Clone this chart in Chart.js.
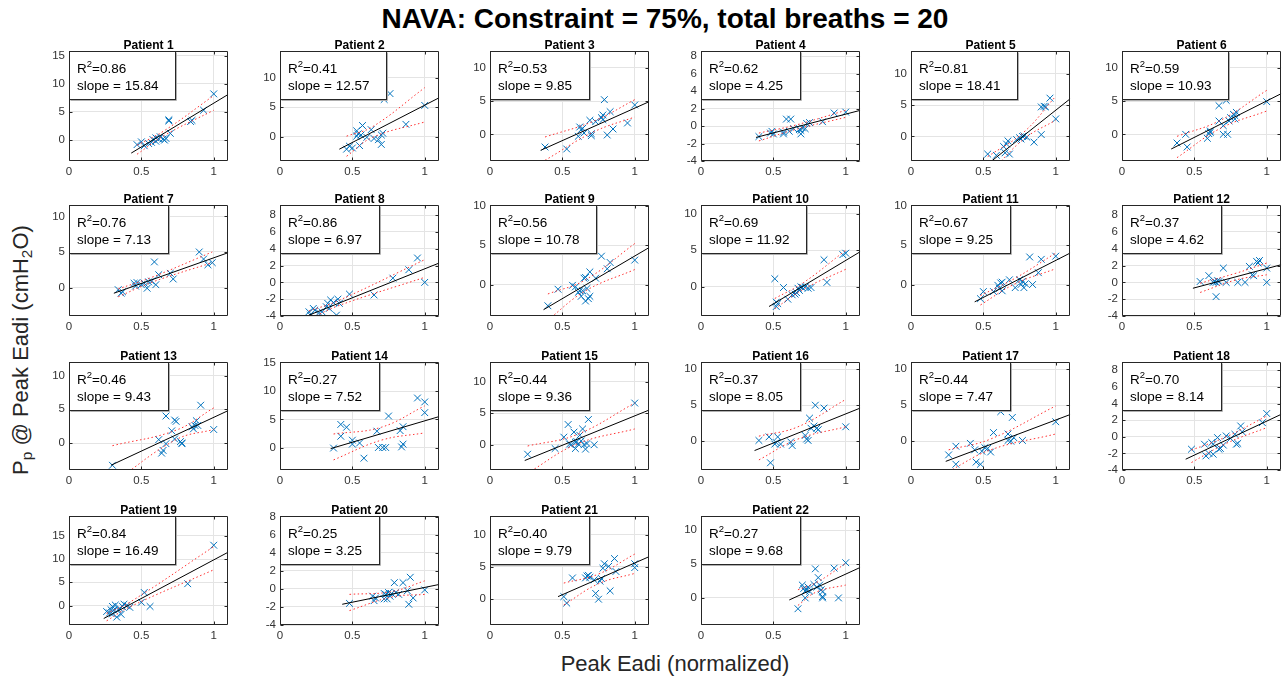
<!DOCTYPE html>
<html>
<head>
<meta charset="utf-8">
<script src="https://cdn.jsdelivr.net/npm/chart.js@4.4.1/dist/chart.umd.min.js"></script>
<style>
  body { margin: 0; background: #fff; width: 1286px; height: 679px; position: relative; overflow: hidden;
         font-family: "Liberation Sans", Arial, sans-serif; color: #262626; }
  canvas.sub { position: absolute; }
  #title { position: absolute; left: 465px; width: 400px; top: 5px; text-align: center; white-space: nowrap;
           font-weight: bold; font-size: 28px; line-height: 28px; color: #000; display: flex; justify-content: center; }
  #xlab { position: absolute; left: 675px; top: 664px; transform: translate(-50%, -50%); white-space: nowrap;
          font-size: 22px; line-height: 22px; }
  #ylab { position: absolute; left: 21px; top: 350px; transform: translate(-50%, -50%) rotate(-90deg);
          white-space: nowrap; font-size: 22px; line-height: 22px; }
  #ylab sub { font-size: 70%; vertical-align: -0.25em; line-height: 0; }
</style>
</head>
<body>
<div id="title">NAVA: Constraint = 75%, total breaths = 20</div>
<div id="ylab">P<sub>p</sub> @ Peak Eadi (cmH<sub>2</sub>O)</div>
<div id="xlab">Peak Eadi (normalized)</div>
<script>
const patients = ["Patient 1","Patient 2","Patient 3","Patient 4","Patient 5","Patient 6",
  "Patient 7","Patient 8","Patient 9","Patient 10","Patient 11","Patient 12",
  "Patient 13","Patient 14","Patient 15","Patient 16","Patient 17","Patient 18",
  "Patient 19","Patient 20","Patient 21","Patient 22"];
const r2Values = [0.86,0.41,0.53,0.62,0.81,0.59, 0.76,0.86,0.56,0.69,0.67,0.37,
  0.46,0.27,0.44,0.37,0.44,0.70, 0.84,0.25,0.40,0.27];
const slopeValues = [15.84,12.57,9.85,4.25,18.41,10.93, 7.13,6.97,10.78,11.92,9.25,4.62,
  9.43,7.52,9.36,8.05,7.47,8.14, 16.49,3.25,9.79,9.68];

// normalized peak Eadi (x) per patient
const eadiX = [
  [0.47,0.50,0.52,0.55,0.57,0.58,0.60,0.60,0.62,0.63,0.65,0.66,0.67,0.69,0.69,0.70,0.84,0.85,0.93,1.00],
  [0.46,0.48,0.50,0.53,0.53,0.54,0.55,0.56,0.57,0.60,0.63,0.65,0.68,0.70,0.70,0.71,0.72,0.76,0.87,1.00],
  [0.38,0.53,0.61,0.62,0.63,0.64,0.65,0.69,0.70,0.70,0.73,0.77,0.78,0.78,0.79,0.81,0.83,0.85,0.95,1.00],
  [0.40,0.48,0.49,0.50,0.57,0.57,0.59,0.62,0.61,0.64,0.68,0.69,0.69,0.70,0.72,0.73,0.75,0.84,0.92,1.00],
  [0.53,0.59,0.64,0.65,0.66,0.67,0.68,0.73,0.75,0.76,0.77,0.78,0.80,0.85,0.90,0.90,0.92,0.93,0.96,1.00],
  [0.38,0.44,0.45,0.59,0.60,0.61,0.61,0.67,0.67,0.70,0.70,0.72,0.73,0.74,0.75,0.77,0.78,0.78,0.79,1.00],
  [0.34,0.36,0.37,0.45,0.46,0.47,0.50,0.52,0.54,0.55,0.57,0.59,0.60,0.62,0.70,0.72,0.90,0.93,0.96,0.99],
  [0.20,0.21,0.23,0.24,0.27,0.29,0.32,0.33,0.34,0.35,0.37,0.39,0.40,0.41,0.48,0.65,0.78,0.89,0.95,1.00],
  [0.40,0.47,0.57,0.59,0.61,0.62,0.63,0.64,0.65,0.66,0.66,0.67,0.68,0.69,0.69,0.73,0.77,0.81,0.83,1.00],
  [0.51,0.52,0.52,0.53,0.57,0.60,0.63,0.65,0.66,0.67,0.68,0.69,0.70,0.72,0.74,0.76,0.85,0.87,0.98,1.00],
  [0.48,0.50,0.57,0.60,0.61,0.62,0.63,0.63,0.68,0.72,0.75,0.76,0.77,0.78,0.79,0.82,0.84,0.88,0.90,1.00],
  [0.54,0.60,0.63,0.64,0.65,0.65,0.66,0.67,0.70,0.72,0.80,0.85,0.88,0.90,0.91,0.93,0.94,0.95,1.00,1.00],
  [0.30,0.62,0.64,0.65,0.67,0.67,0.71,0.73,0.73,0.74,0.77,0.78,0.78,0.85,0.86,0.87,0.88,0.89,0.91,1.00],
  [0.37,0.42,0.42,0.46,0.50,0.50,0.55,0.58,0.67,0.68,0.71,0.73,0.75,0.83,0.84,0.85,0.85,0.95,1.00,1.00],
  [0.26,0.45,0.51,0.54,0.55,0.56,0.58,0.59,0.59,0.60,0.61,0.62,0.63,0.64,0.65,0.66,0.67,0.68,0.72,1.00],
  [0.40,0.47,0.48,0.51,0.52,0.53,0.55,0.62,0.63,0.72,0.73,0.74,0.75,0.76,0.78,0.79,0.80,0.81,0.85,1.00],
  [0.26,0.31,0.31,0.41,0.44,0.45,0.48,0.49,0.51,0.53,0.55,0.57,0.62,0.67,0.67,0.69,0.70,0.71,0.77,1.00],
  [0.48,0.57,0.58,0.60,0.62,0.63,0.63,0.66,0.67,0.68,0.70,0.72,0.75,0.78,0.79,0.80,0.82,0.83,0.97,1.00],
  [0.26,0.28,0.29,0.30,0.30,0.31,0.32,0.33,0.34,0.35,0.36,0.37,0.38,0.40,0.42,0.50,0.52,0.56,0.82,1.00],
  [0.48,0.64,0.65,0.66,0.72,0.72,0.73,0.74,0.75,0.76,0.77,0.79,0.80,0.82,0.85,0.88,0.89,0.90,0.92,1.00],
  [0.51,0.53,0.57,0.66,0.67,0.68,0.69,0.72,0.73,0.75,0.76,0.77,0.78,0.79,0.82,0.83,0.86,0.87,1.00,1.00],
  [0.67,0.70,0.71,0.72,0.72,0.73,0.74,0.75,0.78,0.79,0.80,0.81,0.82,0.83,0.84,0.84,0.84,0.92,0.95,1.00]
];
// Pp at peak Eadi (y, cmH2O) per patient
const ppY = [
  [-0.8,-0.3,-1.0,-0.6,-0.4,0.1,0.4,-0.2,0.2,0.6,0.2,0.0,0.3,3.6,3.4,1.2,3.3,3.5,5.3,8.2],
  [-2.1,-1.6,-1.9,0.1,1.0,0.5,-1.5,0.3,1.9,-0.1,1.2,-0.3,-0.5,0.3,-1.3,0.6,6.3,7.3,2.1,5.3],
  [-1.9,-2.2,-0.3,1.1,0.7,0.9,0.2,2.1,0.1,-0.2,1.9,2.5,2.9,2.2,5.2,-0.1,3.4,0.8,1.7,4.4],
  [-1.2,-0.8,-0.6,-0.9,-0.7,-0.9,0.8,0.8,-0.6,-0.3,-0.4,-0.5,-0.9,-0.2,-0.3,0.3,0.4,0.5,1.5,1.6],
  [-2.8,-3.0,-1.6,-2.6,-1.2,-0.7,-2.8,-0.5,-0.2,-0.4,0.0,0.1,-0.1,-0.9,0.3,4.7,4.8,4.7,6.1,2.8],
  [-1.3,0.0,-1.9,-0.6,0.1,0.3,0.5,2.0,4.3,0.0,1.3,5.1,0.0,2.0,2.5,3.0,2.3,2.8,3.3,4.9],
  [-0.3,-0.8,-0.6,0.6,0.2,0.7,0.4,0.6,-0.1,0.8,0.9,3.6,0.4,1.8,2.0,1.2,5.0,4.0,3.2,3.5],
  [-3.5,-3.9,-3.1,-3.3,-3.6,-3.5,-2.9,-2.5,-3.1,-2.1,-2.4,-3.9,-2.0,-2.5,-1.4,-1.5,0.5,1.5,2.9,0.0],
  [-2.7,-0.6,-0.1,-0.3,-1.0,-0.8,-1.5,-0.8,0.8,0.9,-2.1,-0.5,-1.8,1.6,-1.5,0.8,3.6,2.0,2.8,3.1],
  [1.1,-2.1,-2.7,-2.3,-0.1,-1.7,-1.1,-1.0,-0.8,-0.2,-0.5,0.0,-0.1,0.0,-0.2,-0.1,3.7,0.6,4.4,4.6],
  [-1.8,-0.9,-0.9,-0.1,-0.5,0.2,0.3,-0.8,0.6,-0.4,0.6,0.0,0.4,-0.4,0.1,3.5,0.0,1.5,3.2,3.6],
  [0.1,0.8,0.0,0.1,-1.7,0.0,0.2,0.1,1.7,0.0,0.0,0.0,1.9,0.9,0.8,2.5,2.3,2.6,1.7,0.0],
  [-3.3,0.5,-1.5,-1.1,-0.1,4.0,1.8,0.6,3.4,3.2,0.2,-0.1,0.0,2.4,2.1,2.6,3.3,2.6,5.6,2.0],
  [-0.1,2.0,4.1,3.6,1.3,0.6,0.8,-1.9,2.9,0.0,0.0,0.0,5.6,3.0,0.1,3.7,0.6,8.8,8.1,6.2],
  [-1.5,-0.6,1.2,3.2,0.1,0.0,2.0,0.4,-0.6,0.5,0.1,1.5,0.6,2.5,0.0,-0.7,0.2,4.0,0.0,6.6],
  [0.1,0.6,-3.0,-0.4,-0.2,0.6,-0.4,-0.1,-0.6,0.8,0.3,0.1,3.2,1.8,2.1,5.0,1.8,1.6,4.6,2.0],
  [-1.9,-0.7,-3.2,-0.3,-1.2,-2.9,-3.2,-1.4,-0.9,-1.0,-1.5,1.2,4.1,1.0,0.1,0.0,3.3,0.5,0.1,2.7],
  [-1.5,-0.9,-2.3,-2.0,-0.7,-0.9,-2.1,-0.1,-1.5,-1.4,-1.0,0.1,-0.2,0.3,-0.9,-0.8,1.3,0.6,1.7,2.8],
  [-1.3,-1.6,-0.9,-0.2,-1.8,-1.0,0.1,-2.5,-0.9,-0.6,-1.9,-0.2,0.3,0.0,-0.4,0.7,2.8,-0.2,4.7,13.0],
  [-1.6,-0.8,-1.3,-1.0,-1.1,-0.5,-0.6,-1.1,-0.4,-0.8,-0.5,0.7,-0.4,-0.6,0.7,-0.2,-1.7,1.3,-1.0,-0.1],
  [0.4,-0.6,3.3,3.3,3.6,3.7,3.4,3.0,0.9,0.0,2.8,3.2,4.8,5.5,5.1,1.3,6.3,4.3,5.5,4.9],
  [-1.6,1.9,1.4,0.0,1.0,1.2,1.6,1.0,2.0,4.3,1.6,3.0,1.9,1.2,0.9,0.2,0.0,4.4,0.0,5.2]
];
// fitted line ends [[x0,y0],[x1,y1]]
const fitLines = [
  [[0.43,-2.3],[1.1,8.1]], [[0.41,-2.1],[1.1,6.6]], [[0.35,-2.4],[1.1,4.9]], [[0.38,-1.3],[1.1,1.8]],
  [[0.557,-3.9],[1.1,6.0]], [[0.34,-2.2],[1.1,6.1]], [[0.31,-0.8],[1.1,4.9]], [[0.2,-3.9],[1.1,2.3]],
  [[0.37,-3.2],[1.1,4.7]], [[0.47,-2.7],[1.1,4.8]], [[0.44,-2.2],[1.1,4.0]], [[0.49,-0.7],[1.1,2.1]],
  [[0.29,-3.3],[1.1,4.8]], [[0.35,-0.2],[1.1,5.5]], [[0.24,-2.5],[1.1,5.5]], [[0.37,-1.3],[1.1,4.6]],
  [[0.24,-2.8],[1.1,3.7]], [[0.44,-2.7],[1.1,2.7]], [[0.24,-2.8],[1.1,11.5]], [[0.43,-1.7],[1.1,0.5]],
  [[0.47,0.4],[1.1,6.6]], [[0.61,-0.3],[1.1,4.5]]
];
// confidence bounds (start, middle, end)
const upperBand = [
  [[0.47,-0.9],[0.66,1.7],[1.0,7.9]], [[0.46,0.1],[0.64,1.7],[1.0,8.3]], [[0.38,-0.4],[0.72,2.0],[1.0,5.2]],
  [[0.4,-0.8],[0.65,0.1],[1.0,1.8]], [[0.53,-3.2],[0.78,0.7],[1.0,6.4]], [[0.38,-0.3],[0.68,2.1],[1.0,6.6]],
  [[0.34,-0.2],[0.58,1.5],[0.99,5.0]], [[0.2,-3.4],[0.4,-2.2],[1.0,2.7]], [[0.4,-1.2],[0.66,0.6],[1.0,5.2]],
  [[0.51,-1.6],[0.71,0.6],[1.0,5.0]], [[0.48,-1.4],[0.72,0.8],[1.0,4.0]], [[0.54,-0.1],[0.79,1.1],[1.0,2.3]],
  [[0.3,-0.4],[0.74,1.9],[1.0,5.2]], [[0.37,2.4],[0.7,3.6],[1.0,7.4]], [[0.26,-0.2],[0.6,1.6],[1.0,6.6]],
  [[0.4,0.7],[0.67,2.0],[1.0,5.8]], [[0.26,-1.2],[0.55,0.3],[1.0,4.9]], [[0.48,-1.6],[0.72,0.0],[1.0,2.5]],
  [[0.26,-1.7],[0.42,0.7],[1.0,12.7]], [[0.48,-0.6],[0.77,-0.3],[1.0,0.9]], [[0.51,2.5],[0.75,3.9],[1.0,7.0]],
  [[0.67,1.2],[0.8,2.3],[1.0,5.1]]
];
const lowerBand = [
  [[0.47,-2.5],[0.66,0.85],[1.0,5.3]], [[0.46,-3.3],[0.64,-0.1],[1.0,2.5]], [[0.38,-3.9],[0.72,0.4],[1.0,2.6]],
  [[0.4,-1.7],[0.65,-0.4],[1.0,1.0]], [[0.53,-6.2],[0.78,-0.4],[1.0,2.6]], [[0.38,-3.5],[0.68,0.9],[1.0,3.5]],
  [[0.34,-1.3],[0.58,0.8],[0.99,3.5]], [[0.2,-4.4],[0.4,-2.8],[1.0,0.6]], [[0.4,-4.5],[0.66,-0.8],[1.0,1.9]],
  [[0.51,-3.0],[0.71,-0.3],[1.0,2.4]], [[0.48,-2.6],[0.72,0.1],[1.0,2.0]], [[0.54,-1.2],[0.79,0.3],[1.0,0.9]],
  [[0.3,-6.0],[0.74,0.5],[1.0,2.0]], [[0.37,-2.2],[0.7,1.3],[1.0,2.6]], [[0.26,-4.5],[0.6,0.1],[1.0,2.5]],
  [[0.4,-2.6],[0.67,0.3],[1.0,2.0]], [[0.26,-4.2],[0.55,-1.2],[1.0,1.0]], [[0.48,-3.1],[0.72,-0.8],[1.0,1.1]],
  [[0.26,-3.3],[0.42,-0.3],[1.0,7.7]], [[0.48,-2.4],[0.77,-0.9],[1.0,-0.6]], [[0.51,-0.9],[0.75,2.4],[1.0,4.0]],
  [[0.67,-1.1],[0.8,0.9],[1.0,1.9]]
];
const yMin = [-3.7,-4.1,-4,-4,-3.9,-4, -4,-4,-4,-4,-4,-4, -4,-4,-4,-4,-4,-4, -4.2,-4,-4,-4];
const yMax = [15.8,14.5,12.5,8.6,13.6,12.5, 11.6,9.2,10.1,11.2,10.1,9.2, 12,15.2,13.1,11,11,9, 19.3,8.1,12.9,12.1];
const yStep = [5,5,5,2,5,5, 5,2,5,5,5,2, 5,5,5,5,5,2, 5,2,5,5];
const xTicks = [0, 0.5, 1];

// subplot grid
const colLeft = [69, 280, 490, 701, 911, 1122];
const rowTop = [51, 205, 362, 516];
const rowBottom = [161, 316, 470, 625];
const plotW = 161, padL = 30, padT = 16, padR = 4, padB = 18;

const FONT = '"Liberation Sans", Arial, Helvetica, sans-serif';
Chart.defaults.font.family = FONT;

// y ticks on multiples of the step, inside the limits
function stepTicks(scale, step) {
  const out = [];
  for (let k = Math.ceil(scale.min / step - 1e-9); k * step <= scale.max + 1e-9; k++) out.push({ value: k * step });
  scale.ticks = out;
}

const framePlugin = {
  id: "frame",
  afterDatasetsDraw(chart) {
    const i = chart.options.plugins.frame.index;
    const { ctx, chartArea: a, scales } = chart;
    const L = Math.round(a.left) + 0.5, T = Math.round(a.top) + 0.5;
    const R = Math.round(a.right) - 0.5, B = Math.round(a.bottom) - 0.5;
    ctx.save();
    ctx.strokeStyle = "#262626";
    ctx.lineWidth = 1;
    ctx.beginPath();
    scales.y.ticks.forEach(t => {
      const py = Math.round(scales.y.getPixelForValue(t.value)) + 0.5;
      ctx.moveTo(L, py); ctx.lineTo(L + 3, py);
      ctx.moveTo(R, py); ctx.lineTo(R - 3, py);
    });
    scales.x.ticks.forEach(t => {
      const px = Math.round(scales.x.getPixelForValue(t.value)) + 0.5;
      ctx.moveTo(px, B); ctx.lineTo(px, B - 3);
      ctx.moveTo(px, T); ctx.lineTo(px, T + 3);
    });
    ctx.rect(L, T, R - L, B - T);
    ctx.stroke();

    // R^2 / slope box
    const big = "13.5px " + FONT, small = "9.5px " + FONT;
    const l1a = "R", l1b = "=" + r2Values[i].toFixed(2);
    const l2 = "slope = " + slopeValues[i].toFixed(2);
    ctx.font = big;
    const wR = ctx.measureText(l1a).width, wB = ctx.measureText(l1b).width, w2 = ctx.measureText(l2).width;
    ctx.font = small;
    const wS = ctx.measureText("2").width;
    const tw = Math.max(wR + wS + wB, w2);
    const bw = Math.round(tw + 25), bh = 48;
    ctx.fillStyle = "#fff";
    ctx.fillRect(L, T, bw, bh);
    ctx.strokeStyle = "#b0b0b0";
    ctx.beginPath();
    ctx.moveTo(L + bw + 1, T + 1); ctx.lineTo(L + bw + 1, T + bh + 1); ctx.lineTo(L + 1, T + bh + 1);
    ctx.stroke();
    ctx.strokeStyle = "#262626";
    ctx.strokeRect(L, T, bw, bh);
    ctx.fillStyle = "#000";
    ctx.textAlign = "left";
    ctx.textBaseline = "alphabetic";
    const tx = L + 7.5;
    ctx.font = big;
    ctx.fillText(l1a, tx, T + 21);
    ctx.font = small;
    ctx.fillText("2", tx + wR, T + 15);
    ctx.font = big;
    ctx.fillText(l1b, tx + wR + wS, T + 21);
    ctx.fillText(l2, tx, T + 38);

    // subplot title
    ctx.font = "bold 12px " + FONT;
    ctx.textAlign = "center";
    ctx.fillText(patients[i], (a.left + a.right) / 2, T - 3);
    ctx.restore();
  }
};

patients.forEach((name, i) => {
  const col = i % 6, row = Math.floor(i / 6);
  const h = rowBottom[row] - rowTop[row];
  const cv = document.createElement("canvas");
  cv.className = "sub";
  cv.width = plotW + padL + padR;
  cv.height = h + padT + padB;
  cv.style.left = (colLeft[col] - padL) + "px";
  cv.style.top = (rowTop[row] - padT) + "px";
  cv.style.width = cv.width + "px";
  cv.style.height = cv.height + "px";
  document.body.appendChild(cv);

  const pts = eadiX[i].map((x, k) => ({ x, y: ppY[i][k] }));
  const toXY = arr => arr.map(p => ({ x: p[0], y: p[1] }));
  const tickFont = { size: 11.5, family: FONT };

  new Chart(cv, {
    type: "scatter",
    data: {
      datasets: [
        { data: toXY(fitLines[i]), showLine: true, pointRadius: 0, borderColor: "#000", borderWidth: 1, order: 1 },
        { data: toXY(upperBand[i]), showLine: true, pointRadius: 0, borderColor: "#ff3030", borderWidth: 1,
          borderDash: [1.5, 2.5], tension: 0.4, order: 2 },
        { data: toXY(lowerBand[i]), showLine: true, pointRadius: 0, borderColor: "#ff3030", borderWidth: 1,
          borderDash: [1.5, 2.5], tension: 0.4, order: 2 },
        { data: pts, pointStyle: "crossRot", pointRadius: 4.8, borderColor: "#0072BD",
          backgroundColor: "#0072BD", pointBorderWidth: 1, order: 3 }
      ]
    },
    options: {
      responsive: false,
      animation: false,
      devicePixelRatio: 1,
      events: [],
      layout: { padding: { top: padT, right: padR, left: 0, bottom: 0 } },
      plugins: { legend: { display: false }, tooltip: { enabled: false }, frame: { index: i } },
      scales: {
        x: {
          type: "linear", min: 0, max: 1.1,
          afterBuildTicks: s => { s.ticks = xTicks.map(v => ({ value: v })); },
          ticks: { autoSkip: false, maxRotation: 0, padding: 4, color: "#333", font: tickFont,
                   callback: v => String(v) },
          grid: { color: "#e4e4e4", drawTicks: false },
          border: { display: false },
          afterFit: s => { s.height = padB; }
        },
        y: {
          type: "linear", min: yMin[i], max: yMax[i],
          afterBuildTicks: s => stepTicks(s, yStep[i]),
          ticks: { autoSkip: false, padding: 4, color: "#333", font: tickFont, callback: v => String(v) },
          grid: { color: "#e4e4e4", drawTicks: false },
          border: { display: false },
          afterFit: s => { s.width = padL; }
        }
      }
    },
    plugins: [framePlugin]
  });
});
</script>
</body>
</html>
